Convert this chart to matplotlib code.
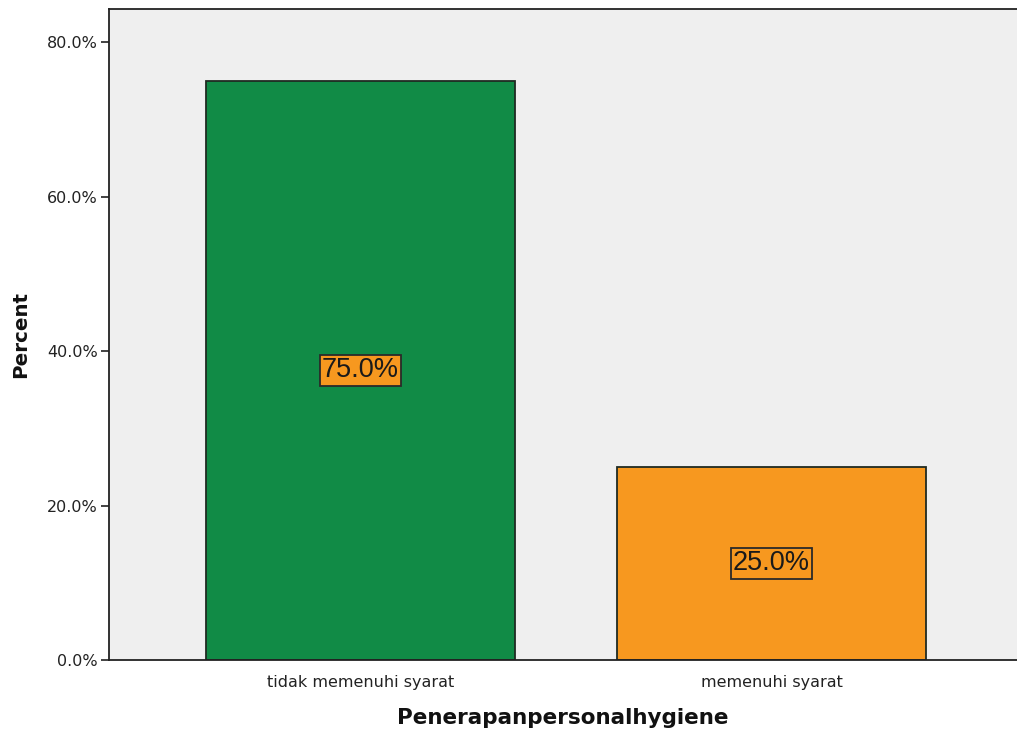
import matplotlib
matplotlib.use("Agg")
import matplotlib.pyplot as plt
from matplotlib.ticker import FuncFormatter

categories = ["tidak memenuhi syarat", "memenuhi syarat"]
percent = [75.0, 25.0]
bar_colors = ["#118B46", "#F7981F"]
label_face = "#F7981F"

fig = plt.figure(figsize=(10.17, 7.31), dpi=100)
ax = fig.add_axes([109 / 1017, 71 / 731, 1 - 109 / 1017, (660 - 9) / 731])
ax.set_facecolor("#EFEFEF")

x = list(range(len(categories)))
ax.bar(x, percent, width=0.75, color=bar_colors, edgecolor="#1f2a22",
       linewidth=1.3, zorder=2)

for xi, v in zip(x, percent):
    ax.text(xi, v / 2, f"{v:.1f}%", ha="center", va="center",
            family="Liberation Sans", fontsize=19.5, color="#1a1a1a", zorder=3,
            bbox=dict(boxstyle="square,pad=0.08", facecolor=label_face,
                      edgecolor="#2a2a2a", linewidth=1.3))

ax.set_xlim(-0.612, 1.597)
ax.set_ylim(0, 84.3)
ax.set_yticks([0, 20, 40, 60, 80])
ax.yaxis.set_major_formatter(FuncFormatter(lambda v, p: f"{v:.1f}%"))
ax.set_xticks(x)
ax.set_xticklabels(categories)

for side in ["left", "top", "bottom"]:
    ax.spines[side].set_color("#222222")
    ax.spines[side].set_linewidth(1.3)
ax.spines["right"].set_visible(False)

ax.tick_params(axis="y", length=6, width=1.2, color="#222222",
               labelsize=11.5, labelcolor="#222222", pad=2)
ax.tick_params(axis="x", length=0, labelsize=11.5, labelcolor="#222222", pad=11)

ax.set_ylabel("Percent", fontsize=14.3, fontweight="bold", color="#111111", labelpad=12)
ax.set_xlabel("Penerapanpersonalhygiene", fontsize=15.5, fontweight="bold",
              color="#111111", labelpad=13)

fig.savefig("out.png", dpi=100, facecolor="white")
